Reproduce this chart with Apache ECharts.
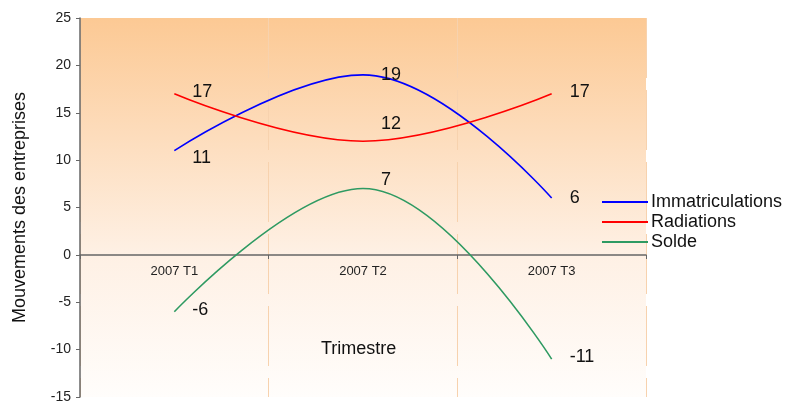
<!DOCTYPE html>
<html>
<head>
<meta charset="utf-8">
<script src="https://cdn.jsdelivr.net/npm/echarts@6/dist/echarts.min.js"></script>
<style>
  html, body { margin: 0; padding: 0; background: #fff; }
  #chart { width: 796px; height: 403px; }
</style>
</head>
<body>
<div id="chart"></div>
<script>
// trimestres
var categories = ["2007 T1", "2007 T2", "2007 T3"];
var immatriculations = [11, 19, 6];
var radiations = [17, 12, 17];
var solde = [-6, 7, -11];

// decalage vertical des etiquettes (px), une par point
var immatLabelDy = [7, 0, 0];
var radLabelDy = [-2, -17, -2];
var soldeLabelDy = [-2, -9, -2];

var font = "Liberation Sans, Arial, sans-serif";

function withLabels(values, dys) {
  return values.map(function (v, i) {
    return {
      value: v,
      label: { offset: [0, dys[i]] }
    };
  });
}

function makeSeries(name, values, dys, color) {
  return {
    name: name,
    type: "line",
    smooth: 0.4,
    data: withLabels(values, dys),
    symbol: "circle",
    symbolSize: 0.01,
    itemStyle: { color: color },
    lineStyle: { color: color, width: 1.6 },
    label: {
      show: true,
      position: "right",
      distance: 18,
      color: "#111",
      fontSize: 18,
      fontFamily: font
    },
    emphasis: { disabled: true }
  };
}

var chart = echarts.init(document.getElementById("chart"));
chart.setOption({
  animation: false,
  backgroundColor: "#fff",
  grid: {
    left: 80, right: 150, top: 18, bottom: 6,
    outerBoundsMode: "none",
    show: true,
    borderWidth: 0,
    backgroundColor: {
      type: "linear", x: 0, y: 0, x2: 0, y2: 1,
      colorStops: [
        { offset: 0, color: "#FCC994" },
        { offset: 0.62, color: "#FEF0E4" },
        { offset: 1, color: "#FFFDFB" }
      ]
    }
  },
  legend: {
    orient: "vertical",
    left: 597,
    top: 188,
    itemWidth: 46,
    itemHeight: 2,
    itemGap: 2,
    icon: "rect",
    textStyle: { fontSize: 18, fontFamily: font, color: "#111", padding: [0, 0, 0, -2] },
    data: ["Immatriculations", "Radiations", "Solde"]
  },
  xAxis: {
    type: "category",
    data: categories,
    boundaryGap: true,
    offset: -142,
    axisLine: { onZero: false, lineStyle: { color: "#666", width: 1.5 } },
    axisTick: { show: true, length: 4, lineStyle: { color: "#666" } },
    axisLabel: { color: "#222", fontSize: 13, fontFamily: font, margin: 10 },
    splitLine: { show: true, lineStyle: { color: "#F7D2AE", width: 1, type: [60, 12] } }
  },
  yAxis: {
    type: "value",
    min: -15,
    max: 25,
    interval: 5,
    name: "Mouvements des entreprises",
    nameLocation: "middle",
    nameGap: 51,
    nameTextStyle: { fontSize: 18, fontFamily: font, color: "#111" },
    axisLine: { show: true, lineStyle: { color: "#666", width: 1.5 } },
    axisTick: { show: true, length: 4, lineStyle: { color: "#666" } },
    axisLabel: { color: "#222", fontSize: 14, fontFamily: font, margin: 9 },
    splitLine: { show: false }
  },
  graphic: [
    {
      type: "text",
      left: 321,
      top: 340,
      style: { text: "Trimestre", fontSize: 18, fontFamily: font, fill: "#111" }
    }
  ],
  series: [
    makeSeries("Immatriculations", immatriculations, immatLabelDy, "#0000FF"),
    makeSeries("Radiations", radiations, radLabelDy, "#FF0000"),
    makeSeries("Solde", solde, soldeLabelDy, "#2E9A62")
  ]
});
</script>
</body>
</html>
